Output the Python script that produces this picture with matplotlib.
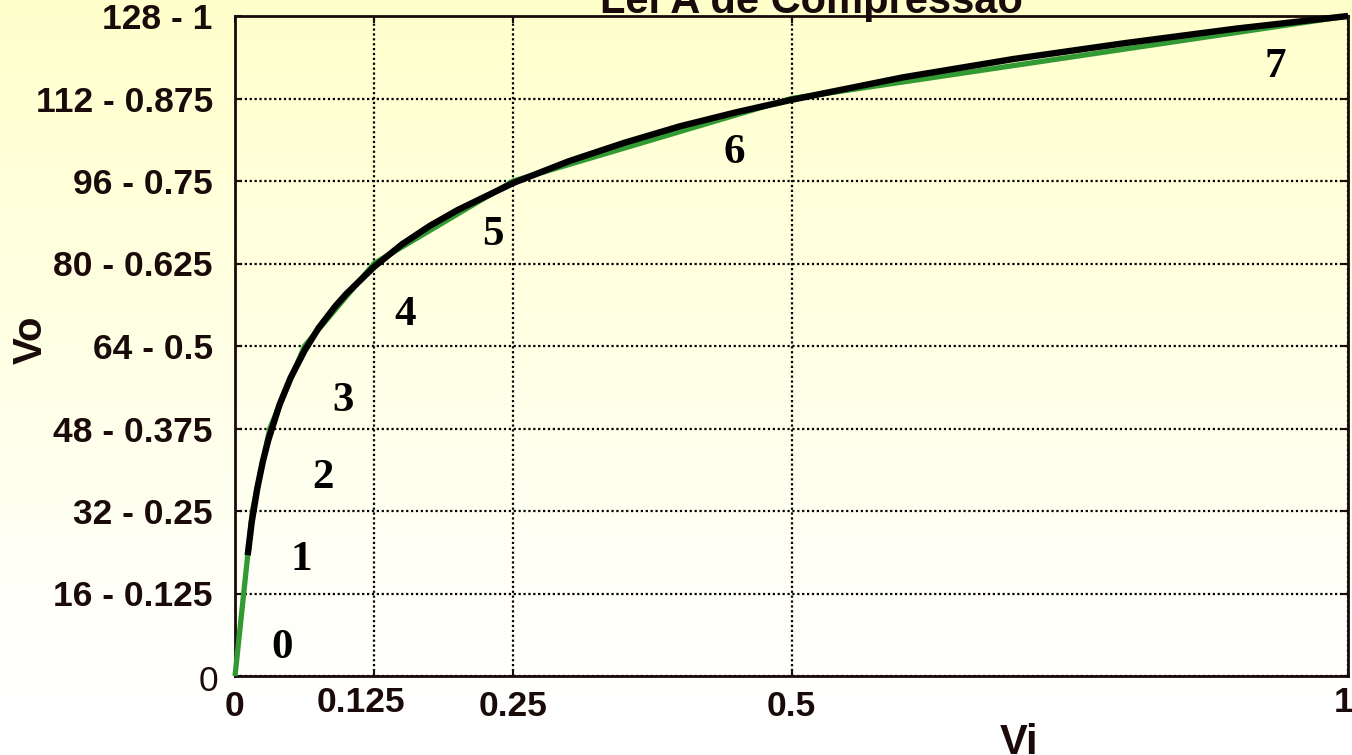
import numpy as np
import matplotlib
matplotlib.use("Agg")
import matplotlib.pyplot as plt
import matplotlib.transforms as mtransforms

# ---------------- data ----------------
xtick_vals = [0, 0.125, 0.25, 0.5, 1]
xtick_labels = ["0", "0.125", "0.25", "0.5", "1"]
ytick_vals = [0, 0.125, 0.25, 0.375, 0.5, 0.625, 0.75, 0.875, 1]
ytick_labels = ["0", "16 - 0.125", "32 - 0.25", "48 - 0.375", "64 - 0.5",
                "80 - 0.625", "96 - 0.75", "112 - 0.875", "128 - 1"]

# piecewise-linear (segmented) approximation, green
seg_x = [0, 1/128, 1/64, 1/32, 1/16, 1/8, 1/4, 1/2, 1]
seg_y = [0, 0.125, 0.25, 0.375, 0.5, 0.625, 0.75, 0.875, 1]

# A-law curve, black
curve_x = [0.0114, 0.015, 0.02, 0.025, 0.03, 0.04, 0.05, 0.0625, 0.075, 0.09,
           0.1, 0.125, 0.15, 0.175, 0.2, 0.25, 0.3, 0.35, 0.4, 0.45, 0.5,
           0.6, 0.7, 0.8, 0.9, 1.0]
curve_y = [0.183, 0.233, 0.284, 0.325, 0.358, 0.411, 0.452, 0.493, 0.527, 0.560,
           0.579, 0.620, 0.654, 0.682, 0.706, 0.747, 0.780, 0.808, 0.833, 0.854, 0.873,
           0.907, 0.935, 0.959, 0.981, 1.0]

# segment number labels
seg_labels = ["0", "1", "2", "3", "4", "5", "6", "7"]
seg_label_x = [0.042, 0.06, 0.079, 0.097, 0.153, 0.232, 0.449, 0.935]
seg_label_y = [0.042, 0.175, 0.300, 0.417, 0.547, 0.668, 0.792, 0.923]

# ---------------- figure ----------------
W, H = 1352, 755
fig = plt.figure(figsize=(W / 100, H / 100), dpi=100)

# background vertical gradient (light yellow -> white)
bg = fig.add_axes([0, 0, 1, 1], zorder=-10)
grad = np.linspace(0, 1, 256).reshape(-1, 1)
top = np.array([255, 255, 204]) / 255
bot = np.array([255, 255, 255]) / 255
t = np.clip(grad / 0.92, 0, 1)
img = top[None, None, :] * (1 - t[..., None]) + bot[None, None, :] * t[..., None]
bg.imshow(img, aspect="auto", extent=[0, 1, 0, 1], origin="upper")
bg.set_axis_off()

L, R, T, B = 235, 1348, 16, 676
ax = fig.add_axes([L / W, 1 - B / H, (R - L) / W, (B - T) / H])
ax.set_facecolor("none")

dark = "#1a0a0a"
ax.plot(seg_x, seg_y, color="#339933", lw=3.8, solid_capstyle="butt", zorder=3,
        clip_on=False)
ax.plot(curve_x, curve_y, color="black", lw=4.6, solid_joinstyle="round",
        solid_capstyle="butt", zorder=4, clip_on=False)

ax.set_xlim(0, 1)
ax.set_ylim(0, 1)
ax.set_xticks(xtick_vals)
ax.set_xticklabels(xtick_labels)
ax.set_yticks(ytick_vals)
ax.set_yticklabels(ytick_labels)

sans = "Liberation Sans"
for lab in ax.get_xticklabels() + ax.get_yticklabels():
    lab.set_fontfamily(sans)
    lab.set_fontweight("bold")
    lab.set_fontsize(25.5)
    lab.set_color(dark)
ax.get_yticklabels()[0].set_fontweight("normal")

ax.tick_params(direction="in", top=True, right=True, length=5, width=1.5,
               color=dark)
ax.tick_params(axis="y", pad=16)
ax.tick_params(axis="x", pad=10)


def shift(lab, dx, dy):
    lab.set_transform(lab.get_transform() +
                      mtransforms.ScaledTranslation(dx / 100, dy / 100, fig.dpi_scale_trans))


# small individual shifts of tick labels
xl = ax.get_xticklabels()
shift(xl[1], -13, 4)
shift(xl[4], -4, 4)
yl = ax.get_yticklabels()
shift(yl[0], 5, -2)

for s in ax.spines.values():
    s.set_linewidth(2)
    s.set_color(dark)

ax.grid(True, color="black", linestyle=(0, (1, 1.2)), linewidth=1.6)
ax.set_axisbelow(True)

for lab, x, y in zip(seg_labels, seg_label_x, seg_label_y):
    ax.text(x, y, lab, fontfamily="Liberation Serif", fontweight="bold",
            fontsize=31, ha="center", va="center", color="black", zorder=5)

fig.text(811 / W, 1 - 13 / H, "Lei A de Compressão", ha="center", va="baseline",
         fontfamily=sans, fontweight="bold", fontsize=30, color=dark)
fig.text(1019 / W, 1 - 754 / H, "Vi", ha="center", va="baseline",
         fontfamily=sans, fontweight="bold", fontsize=30, color=dark)
fig.text(31 / W, 1 - 340 / H, "Vo", ha="center", va="center", rotation=90,
         fontfamily=sans, fontweight="bold", fontsize=29, color=dark)

fig.savefig("out.png", dpi=100)
